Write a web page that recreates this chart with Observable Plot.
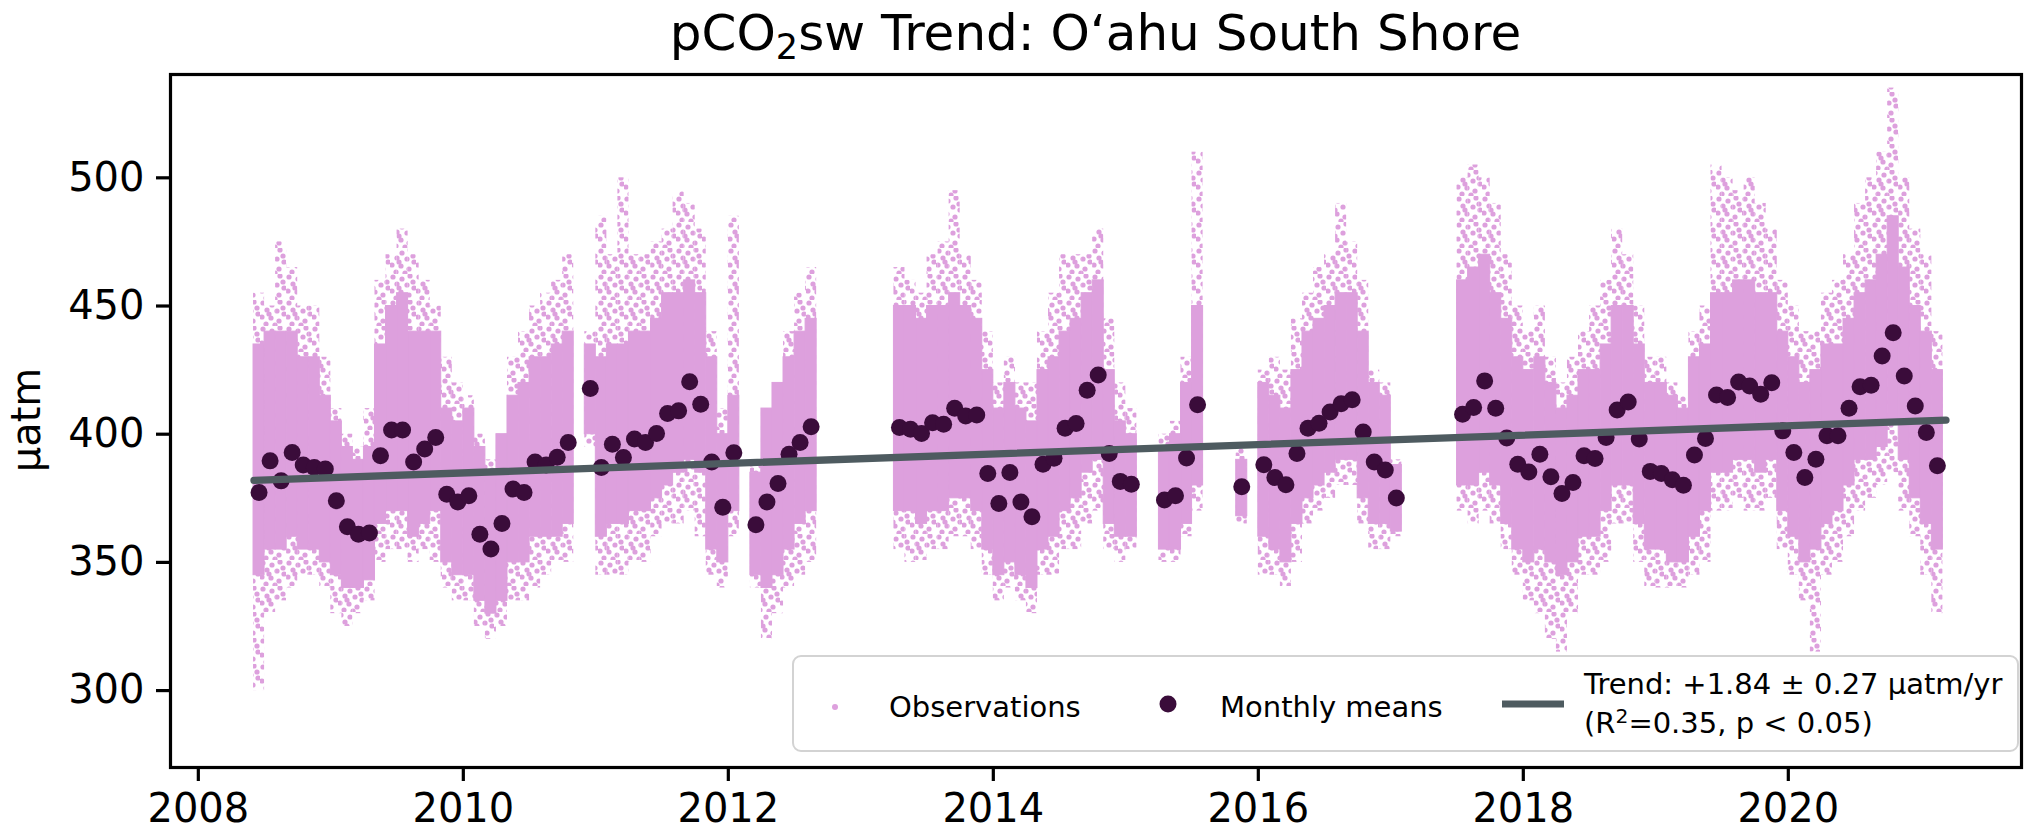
<!DOCTYPE html>
<html>
<head>
<meta charset="utf-8">
<script src="https://cdn.jsdelivr.net/npm/d3@7"></script>
<script src="https://cdn.jsdelivr.net/npm/@observablehq/plot@0.6"></script>
<style>
  body { margin: 0; background: #fff; font-family: "DejaVu Sans", sans-serif; }
  #wrap { position: relative; width: 2044px; height: 836px; overflow: hidden; background: #fff; }
  #title { position: absolute; left: 170px; width: 1851px; top: 0; height: 66px; line-height: 66px;
           text-align: center; font-size: 50px; color: #000; white-space: nowrap; }
  #title sub { font-size: 70%; vertical-align: -0.25em; line-height: 0; }
  #chart { position: absolute; left: 0; top: 66px; }
  #legend { position: absolute; left: 792px; top: 655px; width: 1227px; height: 97px; box-sizing: border-box;
            border: 2.5px solid #d3d3d3; border-radius: 9px; background: rgba(255,255,255,0.85); font-size: 29px; color: #000; }
  #legend .it { position: absolute; transform: translateY(-50%); white-space: nowrap; line-height: 1; }
  #legend .dot { position: absolute; border-radius: 50%; transform: translate(-50%, -50%); }
  #legend .ln { position: absolute; height: 7px; transform: translateY(-50%); background: #4e5b60; }
  #legend sup { font-size: 70%; vertical-align: 0.45em; line-height: 0; }
</style>
</head>
<body>
<div id="wrap">
  <div id="title">pCO<sub>2</sub>sw Trend: O‘ahu South Shore</div>
  <div id="chart"></div>
  <div id="legend">
    <div class="dot" style="left:41px;top:50px;width:6px;height:6px;background:#dda0dd"></div>
    <div class="it" style="left:95px;top:50px">Observations</div>
    <div class="dot" style="left:374px;top:47px;width:17px;height:17px;background:#3a0c3a"></div>
    <div class="it" style="left:426px;top:50px">Monthly means</div>
    <div class="ln" style="left:708px;top:47px;width:62px"></div>
    <div class="it" style="left:790px;top:27px">Trend: +1.84 ± 0.27 µatm/yr</div>
    <div class="it" style="left:790px;top:66px">(R<sup>2</sup>=0.35, p &lt; 0.05)</div>
  </div>
</div>
<script>
// ---- data ----
const months = [
  "2008-06","2008-07","2008-08","2008-09","2008-10","2008-11","2008-12",
  "2009-01","2009-02","2009-03","2009-04","2009-05","2009-06","2009-07","2009-08","2009-09","2009-10","2009-11","2009-12",
  "2010-01","2010-02","2010-03","2010-04","2010-05","2010-06","2010-07","2010-08","2010-09","2010-10","2010-12",
  "2011-01","2011-02","2011-03","2011-04","2011-05","2011-06","2011-07","2011-08","2011-09","2011-10","2011-11","2011-12",
  "2012-01","2012-03","2012-04","2012-05","2012-06","2012-07","2012-08",
  "2013-04","2013-05","2013-06","2013-07","2013-08","2013-09","2013-10","2013-11","2013-12",
  "2014-01","2014-02","2014-03","2014-04","2014-05","2014-06","2014-07","2014-08","2014-09","2014-10","2014-11","2014-12",
  "2015-01","2015-04","2015-05","2015-06","2015-07","2015-11",
  "2016-01","2016-02","2016-03","2016-04","2016-05","2016-06","2016-07","2016-08","2016-09","2016-10","2016-11","2016-12",
  "2017-01","2017-07","2017-08","2017-09","2017-10","2017-11","2017-12",
  "2018-01","2018-02","2018-03","2018-04","2018-05","2018-06","2018-07","2018-08","2018-09","2018-10","2018-11","2018-12",
  "2019-01","2019-02","2019-03","2019-04","2019-05","2019-06","2019-07","2019-08","2019-09","2019-10","2019-11","2019-12",
  "2020-01","2020-02","2020-03","2020-04","2020-05","2020-06","2020-07","2020-08","2020-09","2020-10","2020-11","2020-12",
  "2021-01","2021-02"
];
const monthlyMeans = [
  377.3,389.6,381.8,392.9,388.0,387.0,386.4,
  374.0,363.9,361.0,361.5,391.6,401.6,401.6,389.2,394.2,398.7,376.6,373.6,
  376.0,361.0,355.2,365.2,378.6,377.3,389.2,388.0,391.0,396.8,417.8,
  387.0,396.1,390.9,398.1,396.8,400.3,408.1,409.1,420.5,411.7,389.2,371.5,
  392.8,364.7,373.6,380.8,392.2,396.8,402.9,
  402.6,401.9,400.3,404.5,403.9,410.1,407.1,407.5,384.7,
  373.0,385.1,373.6,367.8,388.3,390.6,402.3,404.2,417.1,423.1,392.5,381.6,
  380.5,374.3,376.0,390.7,411.5,379.5,
  388.1,383.1,380.3,392.5,402.3,404.3,408.7,411.9,413.4,400.9,389.2,386.0,
  375.1,407.8,410.4,420.8,410.1,398.5,388.3,
  385.3,392.2,383.4,376.9,381.2,391.6,390.5,398.7,409.4,412.6,398.1,385.5,
  384.7,382.2,380.1,391.9,398.3,415.3,414.3,420.4,418.8,415.6,420.1,401.3,
  392.9,383.1,390.2,399.4,399.4,410.1,418.5,419.1,430.5,439.6,422.7,411.0,
  400.7,387.7
];
// observation cloud per month: sparse outer range and dense core range
const obsOuterLow = [
  300,330,335,340,345,345,340,
  330,325,330,335,350,355,355,350,355,350,340,335,
  335,325,320,325,335,335,340,345,350,350,395,
  345,345,345,350,350,360,365,365,370,360,345,340,
  360,340,320,330,340,345,350,
  355,350,350,355,355,360,360,355,345,
  335,340,335,330,345,345,355,355,365,370,355,350,
  355,350,350,360,370,365,
  345,345,340,350,365,370,375,380,380,365,355,355,
  360,370,365,370,365,355,345,
  335,330,320,315,330,345,345,350,365,365,350,340,
  340,340,340,345,350,370,370,375,370,370,375,355,
  345,335,315,345,350,360,370,375,380,385,370,360,
  345,330
];
const obsOuterHigh = [
  455,450,475,465,450,450,430,
  410,400,395,410,460,470,480,470,460,450,430,420,
  415,400,390,400,430,440,450,455,460,470,440,
  485,470,500,470,470,475,480,495,490,480,440,410,
  485,390,410,420,440,455,465,
  465,460,455,470,475,495,470,460,440,
  420,430,420,420,440,455,470,470,470,480,445,420,
  410,400,405,430,510,395,
  425,430,425,445,455,465,470,490,475,460,425,420,
  390,500,505,500,490,470,450,
  440,450,430,420,430,440,450,460,480,470,450,430,
  430,420,415,440,450,505,500,495,500,490,480,460,
  450,440,440,455,460,470,490,500,510,535,500,480,
  470,440
];
const obsCoreLow = [
  345,355,355,360,355,355,350,
  345,340,340,343,365,370,370,360,365,370,350,345,
  345,335,330,335,350,350,360,360,360,365,400,
  360,365,365,370,370,375,380,385,390,385,355,350,
  370,345,340,345,355,365,370,
  370,370,365,370,370,375,375,370,355,
  345,350,345,340,355,360,370,375,385,390,365,360,
  360,355,355,365,380,368,
  360,355,350,365,375,380,385,390,390,375,365,365,
  362,380,380,385,380,365,355,
  350,355,350,345,350,360,360,370,380,380,365,355,
  355,350,350,360,370,385,385,390,390,385,390,370,
  360,350,355,365,370,380,390,390,395,405,390,375,
  365,355
];
const obsCoreHigh = [
  435,440,440,440,430,430,415,
  405,395,390,395,435,450,455,440,440,440,410,405,
  410,395,385,400,415,420,430,430,435,440,435,
  430,435,435,440,440,445,455,455,460,455,430,400,
  415,385,410,420,430,440,445,
  450,450,445,450,450,455,450,445,425,
  410,420,410,405,425,430,440,445,455,460,425,405,
  400,395,400,420,450,390,
  420,415,410,425,440,445,450,455,455,440,420,415,
  388,460,465,470,455,445,430,
  425,430,420,410,415,425,425,435,450,450,435,420,
  420,415,410,430,435,455,455,460,460,455,455,440,
  430,420,425,435,435,445,455,460,470,485,465,450,
  440,425
];
const trendYears = [2008.42, 2021.19];
const trendValues = [382.0, 405.5];
const xTicks = [2008, 2010, 2012, 2014, 2016, 2018, 2020];
const yTicks = [300, 350, 400, 450, 500];

// ---- build tables ----
const rows = months.map((s, i) => {
  const [yy, mm] = s.split("-").map(Number);
  return {
    x1: yy + (mm - 1) / 12, x2: yy + mm / 12, xm: yy + (mm - 0.5) / 12,
    mean: monthlyMeans[i], oLo: obsOuterLow[i], oHi: obsOuterHigh[i], cLo: obsCoreLow[i], cHi: obsCoreHigh[i]
  };
});
const trend = trendYears.map((x, i) => ({x, y: trendValues[i]}));

const plot = Plot.plot({
  width: 2044, height: 770,
  marginTop: 8, marginBottom: 69, marginLeft: 170, marginRight: 23,
  style: {fontFamily: "DejaVu Sans", fontSize: "40px", color: "black", background: "white", overflow: "visible"},
  x: {domain: [2007.79, 2021.76]},
  y: {domain: [270, 540.3]},
  marks: [
    Plot.rect(rows, {x1: "x1", x2: "x2", y1: "oLo", y2: "oHi", inset: 0, fill: "url(#obsDots)"}),
    Plot.rect(rows, {x1: "x1", x2: "x2", y1: "cLo", y2: "cHi", inset: 0, fill: "#dda0dd", stroke: "#dda0dd", strokeWidth: 1}),
    Plot.dot(rows, {x: "xm", y: "mean", r: 8.5, fill: "#3a0c3a", stroke: "none"}),
    Plot.line(trend, {x: "x", y: "y", stroke: "#4e5b60", strokeWidth: 7.3}),
    Plot.frame({stroke: "black", strokeWidth: 3.2}),
    Plot.axisX({ticks: xTicks, tickFormat: d => String(d), tickSize: 14, tickPadding: 12, fontSize: 40, strokeWidth: 3.2, label: null}),
    Plot.axisY({ticks: yTicks, tickFormat: d => String(d), tickSize: 14, tickPadding: 12, fontSize: 40, strokeWidth: 3.2, label: null})
  ]
});

// irregular speckle pattern for the sparse part of the observation cloud
const svg = d3.select(plot);
const pat = svg.insert("defs", ":first-child").append("pattern")
  .attr("id", "obsDots").attr("patternUnits", "userSpaceOnUse").attr("width", 26).attr("height", 26);
[[3,3],[12,5],[20,2],[7,10],[17,11],[24,14],[2,17],[11,18],[19,21],[6,24],[15,25],[23,8],[9,14]]
  .forEach(([cx, cy]) => pat.append("circle").attr("cx", cx).attr("cy", cy).attr("r", 2.6).attr("fill", "#dda0dd"));

// y axis label
svg.append("text").text("µatm")
  .attr("transform", "translate(26,354) rotate(-90)")
  .attr("text-anchor", "middle").attr("dominant-baseline", "central")
  .attr("font-size", 40).attr("font-family", "DejaVu Sans").attr("fill", "black");

document.getElementById("chart").appendChild(plot);
</script>
</body>
</html>
